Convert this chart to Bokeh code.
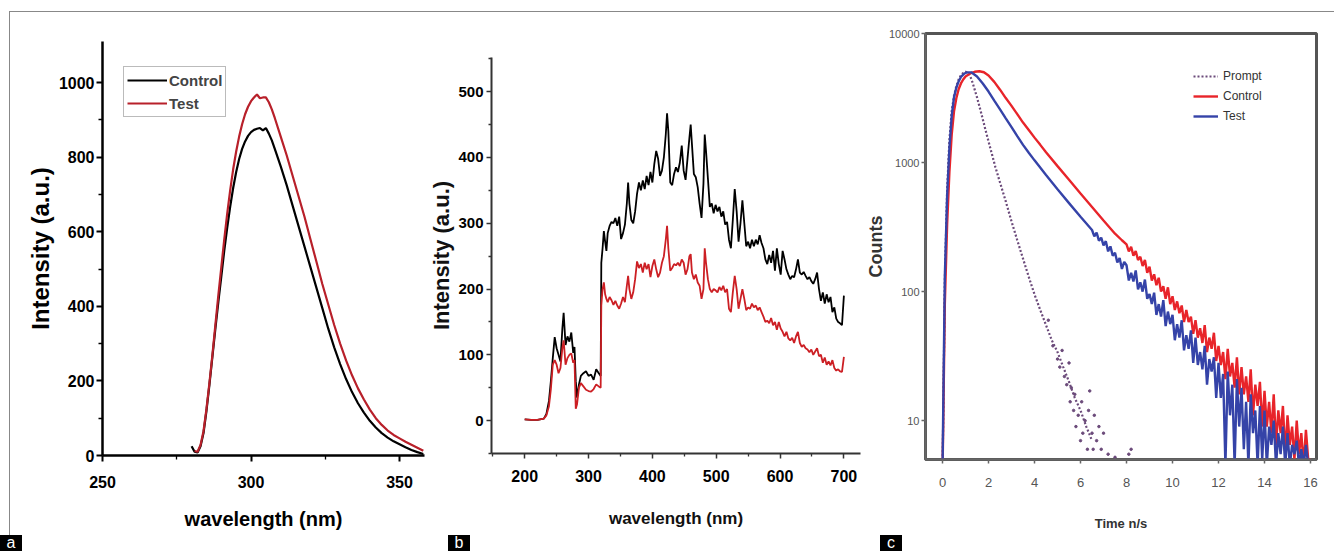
from bokeh.plotting import figure
from bokeh.layouts import row
from bokeh.models import (FixedTicker, Legend, LegendItem, Range1d, Div,
                          PrintfTickFormatter)
from bokeh.embed import file_html
from bokeh.resources import INLINE

SANS = "Liberation Sans"

# ---------------- panel a data ----------------
a_wl_control = [280, 281, 282, 283, 284, 285, 286, 287, 288, 289,
                290, 291, 292, 293, 294, 295, 296, 297, 298, 299,
                300, 301, 302, 303, 304, 305, 306, 307, 308,
                310, 312, 314, 316, 318, 320, 322, 324, 326, 328,
                330, 332, 334, 336, 338, 340, 342, 344, 346, 348,
                350, 352, 354, 356, 358]
a_control = [25, 10, 8, 25, 60, 120, 190, 265, 340, 412,
             480, 550, 612, 668, 718, 760, 795, 822, 842, 857,
             867, 873, 876, 878, 872, 878, 863, 845, 822,
             775, 725, 670, 615, 560, 505, 450, 395, 340, 290,
             245, 205, 170, 140, 115, 93, 75, 60, 48, 38,
             30, 22, 15, 9, 4]
a_wl_test = [281, 282, 283, 284, 285, 286, 287, 288, 289, 290,
             291, 292, 293, 294, 295, 296, 297, 298, 299, 300,
             301, 302, 303, 304, 305, 306, 307, 308,
             310, 312, 314, 316, 318, 320, 322, 324, 326, 328,
             330, 332, 334, 336, 338, 340, 342, 344, 346, 348,
             350, 352, 354, 356, 358]
a_test = [12, 10, 28, 65, 125, 195, 270, 350, 430, 505,
          580, 650, 712, 768, 815, 855, 888, 915, 935, 950,
          960, 968, 958, 960, 960, 947, 928, 905,
          855, 805, 750, 695, 640, 580, 520, 460, 405, 350,
          300, 255, 215, 180, 150, 123, 100, 82, 67, 55,
          46, 37, 29, 21, 13]
a_xticks = [250, 300, 350]
a_yticks = [0, 200, 400, 600, 800, 1000]

# ---------------- panel b data ----------------
b_wl = [200, 210, 220, 230, 234, 238, 241, 244, 247, 250,
        253, 256, 259, 261, 264, 267, 270, 273, 276, 278,
        280, 282, 285, 288, 292, 296, 300, 304, 308, 312,
        316, 319, 320, 322, 324, 326, 328, 330, 333, 336,
        339, 342, 345, 348, 351, 354, 357, 360, 362, 364,
        367, 370, 373, 376, 379, 382, 385, 388, 391, 394,
        397, 400, 403, 406, 409, 412, 415, 418, 421, 423,
        425, 428, 431, 434, 437, 440, 443, 446, 449, 452,
        455, 458, 460, 462, 465, 468, 471, 474, 477, 480,
        482, 484, 487, 490, 493, 496, 499, 502, 505, 508,
        511, 514, 517, 520, 523, 526, 529, 532, 535, 538,
        541, 544, 547, 550, 553, 556, 559, 562, 565, 568,
        571, 574, 577, 580, 583, 586, 589, 592, 595, 598,
        601, 604, 607, 610, 613, 616, 619, 622, 625, 628,
        631, 634, 637, 640, 643, 646, 649, 652, 655, 658,
        661, 664, 667, 670, 673, 676, 679, 682, 685, 688,
        691, 694, 697, 700]
b_control = [2, 1, 1, 3, 10, 30, 60, 95, 127, 110,
             100, 90, 140, 164, 115, 128, 120, 134, 103, 112,
             60, 35, 55, 68, 72, 75, 68, 70, 62, 78,
             72, 68, 240, 262, 288, 272, 258, 285, 296, 302,
             300, 308, 296, 310, 276, 285, 298, 330, 362, 330,
             305, 300, 318, 345, 362, 350, 365, 352, 372, 358,
             378, 362, 390, 410, 398, 372, 380, 400, 435, 467,
             440, 362, 358, 375, 385, 378, 392, 418, 380, 366,
             398, 430, 450, 420, 375, 370, 355, 330, 308, 360,
             435, 410, 368, 325, 330, 315, 328, 318, 325, 310,
             318, 298, 302, 275, 262, 305, 352, 318, 272, 300,
             335, 300, 265, 272, 262, 275, 265, 275, 268, 282,
             270, 262, 245, 238, 252, 240, 258, 228, 262, 238,
             222, 258, 245, 230, 222, 215, 220, 218, 230, 245,
             225, 222, 226, 220, 215, 218, 212, 208, 215, 225,
             200, 182, 195, 178, 192, 180, 188, 165, 172, 155,
             150, 148, 145, 190]
b_test = [2, 1, 1, 3, 8, 22, 48, 85, 92, 85,
          72, 80, 110, 122, 85, 95, 100, 102, 88, 92,
          18, 25, 50, 57, 52, 47, 45, 44, 48, 55,
          52, 50, 175, 200, 210, 192, 185, 180, 188, 183,
          176, 182, 175, 170, 178, 188, 180, 205, 220, 200,
          185, 195, 215, 242, 232, 238, 225, 240, 230, 238,
          218, 235, 245, 230, 218, 225, 240, 250, 275, 296,
          262, 228, 232, 238, 236, 240, 235, 245, 240, 222,
          230, 250, 253, 225, 215, 222, 210, 205, 185, 200,
          262, 240, 215, 200, 195, 200, 198, 195, 203, 198,
          205, 195, 200, 170, 165, 195, 220, 200, 170, 185,
          200, 185, 168, 172, 170, 178, 172, 175, 168, 172,
          165, 158, 150, 152, 148, 156, 145, 150, 138, 150,
          140, 135, 128, 135, 125, 122, 126, 118, 128, 135,
          118, 112, 115, 110, 108, 104, 108, 100, 105, 110,
          98, 100, 88, 96, 85, 90, 84, 92, 80, 76,
          78, 75, 74, 97]
b_xticks = [200, 300, 400, 500, 600, 700]
b_yticks = [0, 100, 200, 300, 400, 500]

# ---------------- panel c data ----------------
c_t_control = [0, 0.03, 0.1, 0.2, 0.3, 0.4, 0.5, 0.6, 0.7, 0.8,
               0.9, 1.0, 1.2, 1.4, 1.6, 1.8, 2.0, 2.25, 2.5, 2.75,
               3.0, 3.25, 3.5, 3.75, 4.0, 4.25, 4.5, 5.0, 5.5, 6.0,
               6.5, 7.0, 7.5, 7.8,
               8.0, 8.1, 8.2, 8.3, 8.4, 8.5, 8.6, 8.7, 8.8, 8.9,
               9.0, 9.1, 9.2, 9.3, 9.4, 9.5, 9.6, 9.7, 9.8, 9.9,
               10.0, 10.1, 10.2, 10.3, 10.4, 10.5, 10.6, 10.7, 10.8, 10.9,
               11.0, 11.1, 11.2, 11.3, 11.4, 11.5, 11.6, 11.7, 11.8, 11.9,
               12.0, 12.1, 12.2, 12.3, 12.4, 12.5, 12.6, 12.7, 12.8, 12.9,
               13.0, 13.1, 13.2, 13.3, 13.4, 13.5, 13.6, 13.7, 13.8, 13.9,
               14.0, 14.1, 14.2, 14.3, 14.4, 14.5, 14.6, 14.7, 14.8, 14.9,
               15.0, 15.1, 15.2, 15.3, 15.4, 15.5, 15.6, 15.7, 15.8, 15.9, 16.0]
c_control = [4, 9, 80, 330, 850, 1650, 2500, 3150, 3700, 4100,
             4400, 4650, 4900, 5050, 5100, 5010, 4730, 4220, 3670, 3160,
             2750, 2370, 2040, 1786, 1560, 1371, 1202, 938, 735, 575,
             453, 356, 281, 250,
             232, 205, 222, 190, 206, 176, 186, 158, 176, 140,
             156, 122, 136, 112, 128, 100, 110, 88, 108, 80,
             92, 72, 84, 68, 78, 58, 72, 58, 64, 47,
             60, 44, 52, 40, 55, 34, 44, 36, 48, 29,
             38, 27, 34, 21, 36, 22, 28, 18, 31, 16,
             26, 16, 22, 14, 25, 11, 19, 13, 20, 9,
             17, 9, 14, 8, 16, 6.5, 12, 8, 13, 5.5,
             11, 6.5, 9, 5, 10, 5.5, 8, 4.5, 8.5, 5, 5]
c_t_test = [0, 0.03, 0.1, 0.2, 0.3, 0.4, 0.5, 0.6, 0.7, 0.8,
            0.9, 1.0, 1.1, 1.25, 1.5, 1.75, 2.0, 2.25, 2.5, 2.75,
            3.0, 3.25, 3.5, 3.75, 4.0, 4.5, 5.0, 5.5, 6.0,
            6.5, 6.6, 6.7, 6.8, 6.9, 7.0, 7.1, 7.2, 7.3, 7.4,
            7.5, 7.6, 7.7, 7.8, 7.9,
            8.0, 8.1, 8.2, 8.3, 8.4, 8.5, 8.6, 8.7, 8.8, 8.9,
            9.0, 9.1, 9.2, 9.3, 9.4, 9.5, 9.6, 9.7, 9.8, 9.9,
            10.0, 10.1, 10.2, 10.3, 10.4, 10.5, 10.6, 10.7, 10.8, 10.9,
            11.0, 11.1, 11.2, 11.3, 11.4, 11.5, 11.6, 11.7, 11.8, 11.9,
            12.0, 12.1, 12.2, 12.3, 12.4, 12.5, 12.6, 12.7, 12.8, 12.9,
            13.0, 13.1, 13.2, 13.3, 13.4, 13.5, 13.6, 13.7, 13.8, 13.9,
            14.0, 14.1, 14.2, 14.3, 14.4, 14.5, 14.6, 14.7, 14.8, 14.9,
            15.0, 15.1, 15.2, 15.3, 15.4, 15.5, 15.6, 15.7, 15.8, 15.9, 16.0]
c_test = [4, 12, 130, 550, 1300, 2300, 3200, 3800, 4250, 4600,
          4800, 4950, 5000, 5000, 4650, 4100, 3550, 3020, 2580, 2200,
          1880, 1600, 1370, 1190, 1040, 800, 620, 485, 380,
          300, 268, 286, 248, 262, 228, 246, 205, 224, 190,
          200, 168, 182, 150, 170,
          160, 122, 140, 120, 146, 104, 118, 100, 124, 88,
          96, 80, 98, 66, 80, 64, 86, 54, 70, 56,
          66, 42, 56, 44, 60, 35, 46, 36, 50, 28,
          44, 27, 34, 25, 38, 19, 30, 24, 31, 15,
          28, 15, 23, 4.5, 24, 11, 19, 4.5, 21, 9,
          18, 6, 14, 4.5, 16, 8, 12, 4.5, 13, 5,
          12, 4.5, 9, 6.5, 10, 4.5, 8, 5.5, 9, 4.5,
          8, 4.5, 6.5, 5.5, 7, 4.5, 6, 4.5, 6.5, 4.5, 4.5]
c_t_prompt = [0, 0.05, 0.1, 0.2, 0.3, 0.4, 0.5, 0.6, 0.7, 0.8,
              0.9, 1.0, 1.1, 1.2, 1.3, 1.5, 1.7, 1.9, 2.1, 2.3,
              2.5, 2.75, 3.0, 3.25, 3.5, 3.75, 4.0, 4.25, 4.5, 4.75,
              5.0, 5.25, 5.5, 5.75, 6.0, 6.25, 6.5]
c_prompt = [4, 20, 120, 600, 1500, 2500, 3300, 3900, 4400, 4750,
            4950, 5050, 5000, 4700, 4200, 3200, 2350, 1700, 1250, 920,
            700, 500, 350, 250, 180, 130, 95, 72, 55, 42,
            34, 26, 20, 15, 12, 9, 7]
c_t_prompt_tail = [4.6, 4.8, 5.0, 5.1, 5.2, 5.3, 5.4, 5.5, 5.55, 5.6,
                   5.7, 5.75, 5.8, 5.9, 6.0, 6.05, 6.1, 6.2, 6.3, 6.35,
                   6.4, 6.5, 6.55, 6.6, 6.7, 6.8, 6.9, 7.0, 7.2, 7.5,
                   8.1, 8.2]
c_prompt_tail = [60, 38, 30, 26, 35, 22, 19, 28, 14, 18,
                 12, 16, 9, 11, 7, 14, 8, 10, 6, 12,
                 17, 8, 6, 11, 7, 9, 6, 8, 5.5, 5.2,
                 5.5, 6]
c_xticks = [0, 2, 4, 6, 8, 10, 12, 14, 16]
c_yticks = [10, 100, 1000, 10000]

panel_letters = ["a", "b", "c"]


def base_fig(fw, fh, mbl, mbr, mbt, mbb, **kw):
    p = figure(width=mbl + fw + mbr, height=mbt + fh + mbb,
               frame_width=fw, frame_height=fh,
               output_backend="svg", toolbar_location=None,
               title=None, min_border_left=mbl, min_border_right=mbr,
               min_border_top=mbt, min_border_bottom=mbb, **kw)
    try:
        p.frame_align = False
    except Exception:
        pass
    p.grid.visible = False
    p.background_fill_color = "white"
    p.border_fill_color = "white"
    return p


def letter_div(txt, left):
    return Div(text=txt, width=22, height=16, margin=0,
               styles={"position": "absolute", "left": f"{left}px", "top": "523px",
                       "background-color": "black", "color": "white",
                       "font-family": "Liberation Sans, sans-serif",
                       "font-size": "16px", "line-height": "15px",
                       "text-align": "center", "overflow": "hidden"})


def style_axis(ax, color, lw, tick_out, minor_out, label_size, label_color):
    ax.axis_line_width = lw
    ax.axis_line_color = color
    ax.major_tick_line_width = 2 if lw > 2 else 1.5
    ax.major_tick_line_color = color
    ax.major_tick_out = tick_out
    ax.major_tick_in = 0
    if minor_out:
        ax.minor_tick_line_width = 1.3
        ax.minor_tick_line_color = color
        ax.minor_tick_out = minor_out
        ax.minor_tick_in = 0
    else:
        ax.minor_tick_line_color = None
    ax.major_label_text_font = SANS
    ax.major_label_text_font_size = label_size
    ax.major_label_text_color = label_color
    ax.axis_label_text_font = SANS
    ax.axis_label_text_font_style = "bold"


# ---------------- panel a ----------------
pa = base_fig(322, 414, 92, 1, 29, 95, x_range=Range1d(250, 358.4), y_range=Range1d(0, 1110))
pa.outline_line_color = None
la = pa.line(a_wl_control, a_control, color="black", line_width=2.2)
lb = pa.line(a_wl_test, a_test, color="#b8202a", line_width=2.2)
pa.xaxis.ticker = FixedTicker(ticks=a_xticks, minor_ticks=[275, 325])
pa.yaxis.ticker = FixedTicker(ticks=a_yticks, minor_ticks=[100, 300, 500, 700, 900])
pa.xaxis.axis_label = "wavelength (nm)"
pa.yaxis.axis_label = "Intensity (a.u.)"
for ax in (pa.xaxis[0], pa.yaxis[0]):
    style_axis(ax, "black", 2.5, 6, 4, "16px", "black")
    ax.major_label_text_font_style = "bold"
    ax.axis_label_text_color = "black"
pa.xaxis.major_label_standoff = 14
pa.xaxis.axis_label_text_font_size = "20px"
pa.xaxis.axis_label_standoff = 17
pa.yaxis.major_label_standoff = 2
pa.yaxis.axis_label_text_font_size = "24px"
pa.yaxis.axis_label_standoff = 2
leg_a = Legend(items=[LegendItem(label="Control", renderers=[la]),
                      LegendItem(label="Test", renderers=[lb])],
               location=(21, 338), border_line_color="#777", border_line_width=1,
               padding=3, spacing=3, margin=0, glyph_width=40, glyph_height=20,
               label_height=20, label_standoff=2, label_text_font=SANS,
               label_text_font_style="bold", label_text_font_size="15px",
               background_fill_color="white")
pa.add_layout(leg_a)

# ---------------- panel b ----------------
pb = base_fig(369, 396, 66, 2, 45, 97, x_range=Range1d(148, 726), y_range=Range1d(-50, 552))
pb.outline_line_color = None
pb.line(b_wl, b_control, color="black", line_width=1.8)
pb.line(b_wl, b_test, color="#cc1f24", line_width=1.8)
pb.xaxis.ticker = FixedTicker(ticks=b_xticks, minor_ticks=[150, 250, 350, 450, 550, 650])
pb.yaxis.ticker = FixedTicker(ticks=b_yticks, minor_ticks=[-50, 50, 150, 250, 350, 450, 550])
pb.xaxis.axis_label = "wavelength (nm)"
pb.yaxis.axis_label = "Intensity (a.u.)"
for ax in (pb.xaxis[0], pb.yaxis[0]):
    style_axis(ax, "#333", 2, 5, 3, "16px", "black")
    ax.major_label_text_font_style = "bold"
    ax.axis_label_text_color = "#111"
pb.xaxis.major_label_standoff = 11
pb.xaxis.axis_label_text_font_size = "17px"
pb.xaxis.axis_label_standoff = 24
pb.yaxis.major_label_text_font_size = "15px"
pb.yaxis.major_label_standoff = 3
pb.yaxis.axis_label_text_font_size = "22px"
pb.yaxis.axis_label_standoff = 1

# ---------------- panel c ----------------
pc = base_fig(391, 426, 62, 18, 21, 91, x_range=Range1d(-0.74, 16.26),
              y_range=Range1d(5, 10000), y_axis_type="log")
pc.outline_line_color = "#555"
pc.outline_line_width = 3
lp = pc.line(c_t_prompt, c_prompt, color="#6b4a7a", line_width=2.2, line_dash="2 2")
pc.scatter(c_t_prompt_tail, c_prompt_tail, size=2.5, color="#6b4a7a")
lc = pc.line(c_t_control, c_control, color="#e8242a", line_width=2.4)
lt = pc.line(c_t_test, c_test, color="#3543a8", line_width=2.4)
pc.xaxis.ticker = FixedTicker(ticks=c_xticks)
pc.yaxis.ticker = FixedTicker(ticks=c_yticks)
pc.yaxis.formatter = PrintfTickFormatter(format="%d")
pc.xaxis.axis_label = "Time n/s"
pc.yaxis.axis_label = "Counts"
for ax in (pc.xaxis[0], pc.yaxis[0]):
    style_axis(ax, "#666", 2, 4, 0, "11px", "#555")
    ax.axis_label_text_color = "#333"
pc.xaxis.major_label_standoff = 14
pc.xaxis.major_label_text_font_size = "13px"
pc.xaxis.axis_label_text_font_size = "13px"
pc.xaxis.axis_label_standoff = 26
pc.yaxis.major_label_standoff = 2
pc.yaxis.axis_label_text_font_size = "18px"
pc.yaxis.axis_label_standoff = 0
leg_c = Legend(items=[LegendItem(label="Prompt", renderers=[lp]),
                      LegendItem(label="Control", renderers=[lc]),
                      LegendItem(label="Test", renderers=[lt])],
               location=(268, 334), border_line_color=None, background_fill_alpha=0,
               padding=0, spacing=2, margin=0, glyph_width=25, glyph_height=18,
               label_height=18, label_standoff=5, label_text_font=SANS,
               label_text_font_size="12px", label_text_color="#333")
pc.add_layout(leg_c)

da = letter_div(panel_letters[0], -10)
db = letter_div(panel_letters[1], 438)
dc = letter_div(panel_letters[2], 870)

layout = row(pa, pb, pc, da, db, dc, margin=(11, 0, 0, 9),
             styles={"border-top": "1px solid #888", "border-left": "1px solid #888",
                     "position": "relative"})

open("out.html", "w").write(file_html(layout, INLINE))
